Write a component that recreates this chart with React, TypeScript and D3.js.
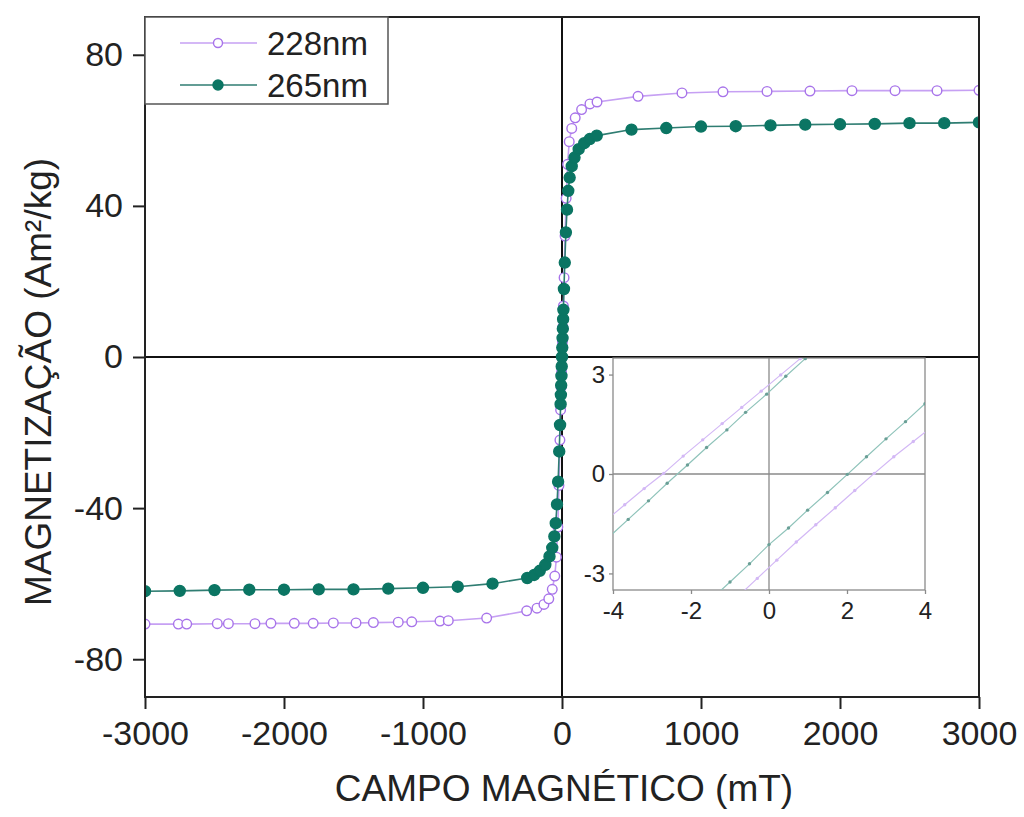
import React, { useRef, useEffect } from 'react';
import * as d3 from 'd3';

// main loop, 228nm sample (field in mT, magnetization in Am²/kg)
const field228 = [-3000, -2760, -2700, -2480, -2400, -2209, -2094, -1926, -1790, -1645, -1482, -1357, -1178, -1081, -878, -818, -542, -254, -180, -130, -95, -70, -52, -40, -30, -22, -15, -10, -6, -3, 0, 3, 6, 10, 15, 22, 30, 40, 52, 70, 95, 141, 201, 252, 547, 863, 1158, 1475, 1784, 2086, 2396, 2698, 3000];
const mag228 = [-70.7, -70.7, -70.7, -70.6, -70.6, -70.6, -70.5, -70.5, -70.5, -70.4, -70.4, -70.3, -70.2, -70.1, -69.9, -69.8, -69.1, -67.2, -66.5, -65.5, -64.0, -61.5, -58.0, -53.0, -45.0, -34.0, -22.0, -14.0, -8.0, -4.0, 0, 4.0, 8.0, 13.5, 21.0, 32.0, 42.0, 51.0, 57.0, 60.5, 63.3, 65.5, 67.0, 67.5, 69.0, 69.9, 70.2, 70.3, 70.4, 70.5, 70.5, 70.5, 70.6];

// main loop, 265nm sample
const field265 = [-3000, -2750, -2500, -2250, -2000, -1750, -1500, -1250, -1000, -750, -500, -250, -200, -160, -120, -90, -70, -55, -45, -36, -28, -20, -14, -10, -8, -6, -4, -2, 0, 2, 4, 6, 8, 10, 14, 20, 28, 36, 45, 55, 70, 90, 120, 160, 200, 250, 500, 750, 1000, 1250, 1500, 1750, 2000, 2250, 2500, 2750, 3000];
const mag265 = [-62.0, -61.9, -61.7, -61.6, -61.6, -61.5, -61.5, -61.3, -61.1, -60.8, -60.0, -58.5, -57.7, -56.6, -55.0, -52.8, -50.5, -47.5, -44.0, -39.0, -33.0, -25.0, -18.0, -12.5, -10.0, -7.5, -5.0, -2.5, 0, 2.5, 5.0, 7.5, 10.0, 12.5, 18.0, 25.0, 33.0, 39.0, 44.0, 47.5, 50.5, 52.8, 55.0, 56.6, 57.7, 58.6, 60.2, 60.6, 61.0, 61.1, 61.3, 61.5, 61.6, 61.7, 61.9, 61.9, 62.1];

const xTicks = [-3000, -2000, -1000, 0, 1000, 2000, 3000];
const yTicks = [-80, -40, 0, 40, 80];

// inset: low field branches
const downField228 = [-4.2, -3.7, -3.2, -2.7, -2.2, -1.7, -1.2, -0.7, -0.2, 0.3, 0.8, 1.0];
const downMag228 = [-1.42, -0.93, -0.44, 0.02, 0.54, 1.03, 1.52, 2.01, 2.5, 2.99, 3.48, 3.68];
const upField228 = [-0.8, -0.3, 0.2, 0.7, 1.2, 1.7, 2.2, 2.7, 3.2, 3.7, 4.2];
const upMag228 = [-3.7, -3.15, -2.6, -2.05, -1.53, -1.02, -0.5, 0.02, 0.52, 0.98, 1.45];

const downField265 = [-4.1, -3.61, -3.09, -2.61, -2.09, -1.6, -1.08, -0.6, -0.06, 0.43, 0.93];
const downMag265 = [-1.9, -1.37, -0.81, -0.28, 0.27, 0.8, 1.33, 1.86, 2.41, 2.95, 3.48];
const upField265 = [-1.5, -1.0, -0.5, 0.0, 0.5, 0.99, 1.5, 2.01, 2.5, 3.0, 3.5, 4.0];
const upMag265 = [-3.8, -3.26, -2.71, -2.13, -1.63, -1.09, -0.56, -0.01, 0.52, 1.06, 1.58, 2.12];

const insetXTicks = [-4, -2, 0, 2, 4];
const insetYTicks = [-3, 0, 3];

const FONT = '"Liberation Sans", Arial, sans-serif';
const PURPLE_LINE = '#c6a0f3';
const PURPLE = '#a874ea';
const TEAL_LINE = '#2f7d72';
const TEAL = '#0b7563';

const App = () => {
    const svgRef = useRef<SVGSVGElement>(null);

    useEffect(() => {
        if (svgRef.current) {
            drawChart(svgRef.current);
        }
    }, []);

    return (
        <div style={{ position: 'absolute', left: 0, top: 0 }}>
            <svg ref={svgRef} width={1024} height={817} style={{ display: 'block', background: '#fff' }} />
        </div>
    );
};

function zip(a: number[], b: number[]) {
    return a.map((v, i) => [v, b[i]]);
}

// plain hyphen for negatives, like the original
const fmt = (d: d3.NumberValue) => String(d);

function drawChart(el: SVGSVGElement) {
    const svg = d3.select(el);
    svg.selectAll('*').remove();

    const plot = { left: 145, right: 979, top: 17, bottom: 697 };
    const x = d3.scaleLinear().domain([-3000, 3000]).range([plot.left, plot.right]);
    const y = d3.scaleLinear().domain([-90, 90]).range([plot.bottom, plot.top]);

    const inset = { left: 613, right: 925, top: 358, bottom: 590 };
    const ix = d3.scaleLinear().domain([-4, 4]).range([inset.left, inset.right]);
    const iy = d3.scaleLinear().domain([-3.5, 3.5]).range([inset.bottom, inset.top]);

    const defs = svg.append('defs');
    defs.append('clipPath').attr('id', 'main-clip').append('rect')
        .attr('x', plot.left).attr('y', plot.top)
        .attr('width', plot.right - plot.left).attr('height', plot.bottom - plot.top);
    defs.append('clipPath').attr('id', 'inset-clip').append('rect')
        .attr('x', inset.left).attr('y', inset.top)
        .attr('width', inset.right - inset.left).attr('height', inset.bottom - inset.top);

    // zero lines
    svg.append('line')
        .attr('x1', x(0)).attr('x2', x(0)).attr('y1', plot.top).attr('y2', plot.bottom)
        .attr('stroke', '#111').attr('stroke-width', 2);
    svg.append('line')
        .attr('x1', plot.left).attr('x2', plot.right).attr('y1', y(0)).attr('y2', y(0))
        .attr('stroke', '#111').attr('stroke-width', 2);

    // inset
    const ins = svg.append('g');
    ins.append('rect')
        .attr('x', inset.left).attr('y', inset.top)
        .attr('width', inset.right - inset.left).attr('height', inset.bottom - inset.top)
        .attr('fill', '#fff').attr('stroke', '#8a8a8a').attr('stroke-width', 1.3);
    ins.append('line')
        .attr('x1', ix(0)).attr('x2', ix(0)).attr('y1', inset.top).attr('y2', inset.bottom)
        .attr('stroke', '#8a8a8a').attr('stroke-width', 1.3);
    ins.append('line')
        .attr('x1', inset.left).attr('x2', inset.right).attr('y1', iy(0)).attr('y2', iy(0))
        .attr('stroke', '#8a8a8a').attr('stroke-width', 1.3);

    const insetLine = d3.line<number[]>().x(d => ix(d[0])).y(d => iy(d[1]));
    const insData = ins.append('g').attr('clip-path', 'url(#inset-clip)');
    const insetSeries = [
        { pts: zip(downField228, downMag228), line: '#d3b8f5', dot: '#d3b8f5' },
        { pts: zip(upField228, upMag228), line: '#d3b8f5', dot: '#d3b8f5' },
        { pts: zip(downField265, downMag265), line: '#8fc3ba', dot: '#6a9f96' },
        { pts: zip(upField265, upMag265), line: '#8fc3ba', dot: '#6a9f96' },
    ];
    insetSeries.forEach(s => {
        insData.append('path').datum(s.pts).attr('d', insetLine)
            .attr('fill', 'none').attr('stroke', s.line).attr('stroke-width', 1.2);
        insData.selectAll(null).data(s.pts).enter().append('circle')
            .attr('cx', d => ix(d[0])).attr('cy', d => iy(d[1])).attr('r', 1.7)
            .attr('fill', s.dot);
    });

    const insAxisY = ins.append('g').attr('transform', `translate(${inset.left},0)`)
        .call(d3.axisLeft(iy).tickValues(insetYTicks).tickSize(4).tickSizeOuter(0).tickPadding(4).tickFormat(fmt));
    const insAxisX = ins.append('g').attr('transform', `translate(0,${inset.bottom})`)
        .call(d3.axisBottom(ix).tickValues(insetXTicks).tickSize(4).tickSizeOuter(0).tickPadding(8).tickFormat(fmt));
    [insAxisY, insAxisX].forEach(a => {
        a.select('.domain').remove();
        a.selectAll('line').attr('stroke', '#8a8a8a').attr('stroke-width', 1.3);
        a.selectAll('text').style('font-family', FONT).style('font-size', '24px').attr('fill', '#222');
    });

    // main series
    const line = d3.line<number[]>().x(d => x(d[0])).y(d => y(d[1]));
    const data = svg.append('g').attr('clip-path', 'url(#main-clip)');
    const series = [
        { pts: zip(field228, mag228), line: PURPLE_LINE, stroke: PURPLE, fill: '#fff', r: 4.8 },
        { pts: zip(field265, mag265), line: TEAL_LINE, stroke: TEAL, fill: TEAL, r: 5.5 },
    ];
    series.forEach(s => {
        data.append('path').datum(s.pts).attr('d', line)
            .attr('fill', 'none').attr('stroke', s.line).attr('stroke-width', 1.6);
        data.selectAll(null).data(s.pts).enter().append('circle')
            .attr('cx', d => x(d[0])).attr('cy', d => y(d[1])).attr('r', s.r)
            .attr('fill', s.fill).attr('stroke', s.stroke).attr('stroke-width', 1.4);
    });

    // frame
    svg.append('rect')
        .attr('x', plot.left).attr('y', plot.top)
        .attr('width', plot.right - plot.left).attr('height', plot.bottom - plot.top)
        .attr('fill', 'none').attr('stroke', '#222').attr('stroke-width', 2);

    const axisY = svg.append('g').attr('transform', `translate(${plot.left},0)`)
        .call(d3.axisLeft(y).tickValues(yTicks).tickSize(12).tickSizeOuter(0).tickPadding(10).tickFormat(fmt));
    const axisX = svg.append('g').attr('transform', `translate(0,${plot.bottom})`)
        .call(d3.axisBottom(x).tickValues(xTicks).tickSize(12).tickSizeOuter(0).tickPadding(12).tickFormat(fmt));
    [axisY, axisX].forEach(a => {
        a.select('.domain').remove();
        a.selectAll('line').attr('stroke', '#222').attr('stroke-width', 2);
        a.selectAll('text').style('font-family', FONT).style('font-size', '34px').attr('fill', '#222');
    });

    svg.append('text')
        .attr('x', (plot.left + plot.right) / 2 + 2).attr('y', 801)
        .attr('text-anchor', 'middle')
        .style('font-family', FONT).style('font-size', '37px').attr('fill', '#222')
        .text('CAMPO MAGNÉTICO (mT)');

    svg.append('text')
        .attr('transform', 'translate(51,382) rotate(-90)')
        .attr('text-anchor', 'middle')
        .style('font-family', FONT).style('font-size', '37px').attr('fill', '#222')
        .text('MAGNETIZAÇÃO (Am²/kg)');

    // legend
    const legend = svg.append('g');
    legend.append('rect')
        .attr('x', plot.left).attr('y', plot.top).attr('width', 243).attr('height', 87)
        .attr('fill', '#fff').attr('stroke', '#555').attr('stroke-width', 1.5);
    const items = [
        { name: '228nm', line: PURPLE_LINE, stroke: PURPLE, fill: '#fff', r: 4.5 },
        { name: '265nm', line: TEAL_LINE, stroke: TEAL, fill: TEAL, r: 5 },
    ];
    items.forEach((d, i) => {
        const cy = 43 + i * 42;
        legend.append('line').attr('x1', 180).attr('x2', 257).attr('y1', cy).attr('y2', cy)
            .attr('stroke', d.line).attr('stroke-width', 1.6);
        legend.append('circle').attr('cx', 218).attr('cy', cy).attr('r', d.r)
            .attr('fill', d.fill).attr('stroke', d.stroke).attr('stroke-width', 1.4);
        legend.append('text').attr('x', 267).attr('y', cy).attr('dy', '0.36em')
            .style('font-family', FONT).style('font-size', '33px').attr('fill', '#222')
            .text(d.name);
    });
}

export default App;
